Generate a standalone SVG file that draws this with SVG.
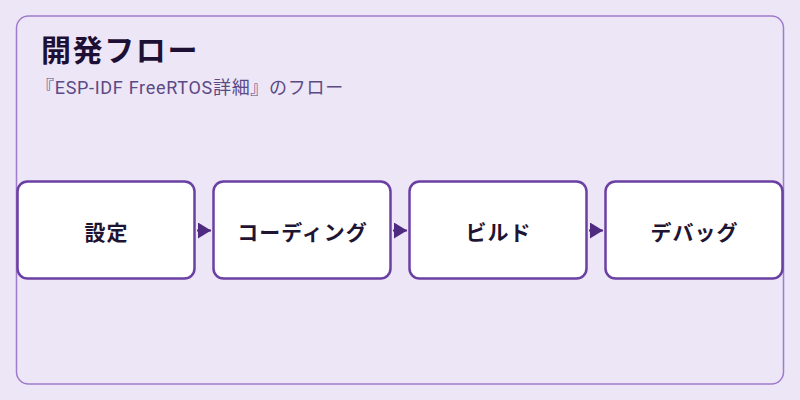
<svg xmlns="http://www.w3.org/2000/svg" width="800" height="400" viewBox="0 0 800 400">
<defs>
<style>
.node rect{fill:#ffffff;stroke:#6b40a3;stroke-width:2.5}
.node text{font-family:"Noto Sans CJK JP","Noto Sans",sans-serif;font-size:21px;font-weight:bold;fill:#1f1533;text-anchor:middle;letter-spacing:1px}
.conn{stroke:#4e2a80;stroke-width:2;fill:none}
</style>
<marker id="ah" viewBox="0 0 13 16" refX="13" refY="8" markerWidth="13" markerHeight="16" markerUnits="userSpaceOnUse" orient="auto">
<path d="M0,0 L13,8 L0,16 Z" fill="#4e2a80"/>
</marker>
</defs>
<rect width="800" height="400" fill="#ede6f6"/>
<rect x="16.5" y="16" width="767" height="368" rx="12" fill="#ede6f6" stroke="#a07ccc" stroke-width="1.5"/>
<text x="41" y="61" font-family="'Noto Sans CJK JP','Noto Sans',sans-serif" font-size="30" font-weight="bold" fill="#1e1034" letter-spacing="1.6">開発フロー</text>
<text x="36" y="94" font-family="Roboto,'Noto Sans CJK JP',sans-serif" font-size="18" fill="#5c4a85" letter-spacing="0.7">『ESP-IDF FreeRTOS詳細』のフロー</text>
<g id="connectors">
<line class="conn" x1="197" y1="230.5" x2="211" y2="230.5" marker-end="url(#ah)" stroke-width="0"/>
<line class="conn" x1="393" y1="230.5" x2="407" y2="230.5" marker-end="url(#ah)" stroke-width="0"/>
<line class="conn" x1="589" y1="230.5" x2="603" y2="230.5" marker-end="url(#ah)" stroke-width="0"/>
</g>
<g id="node1" class="node"><rect x="17.5" y="181.5" width="177" height="97" rx="10"/><text x="106.5" y="240">設定</text></g>
<g id="node2" class="node"><rect x="213.5" y="181.5" width="177" height="97" rx="10"/><text x="302.5" y="240">コーディング</text></g>
<g id="node3" class="node"><rect x="409.5" y="181.5" width="177" height="97" rx="10"/><text x="498.5" y="240">ビルド</text></g>
<g id="node4" class="node"><rect x="605.5" y="181.5" width="177" height="97" rx="10"/><text x="694.5" y="240">デバッグ</text></g>
</svg>
